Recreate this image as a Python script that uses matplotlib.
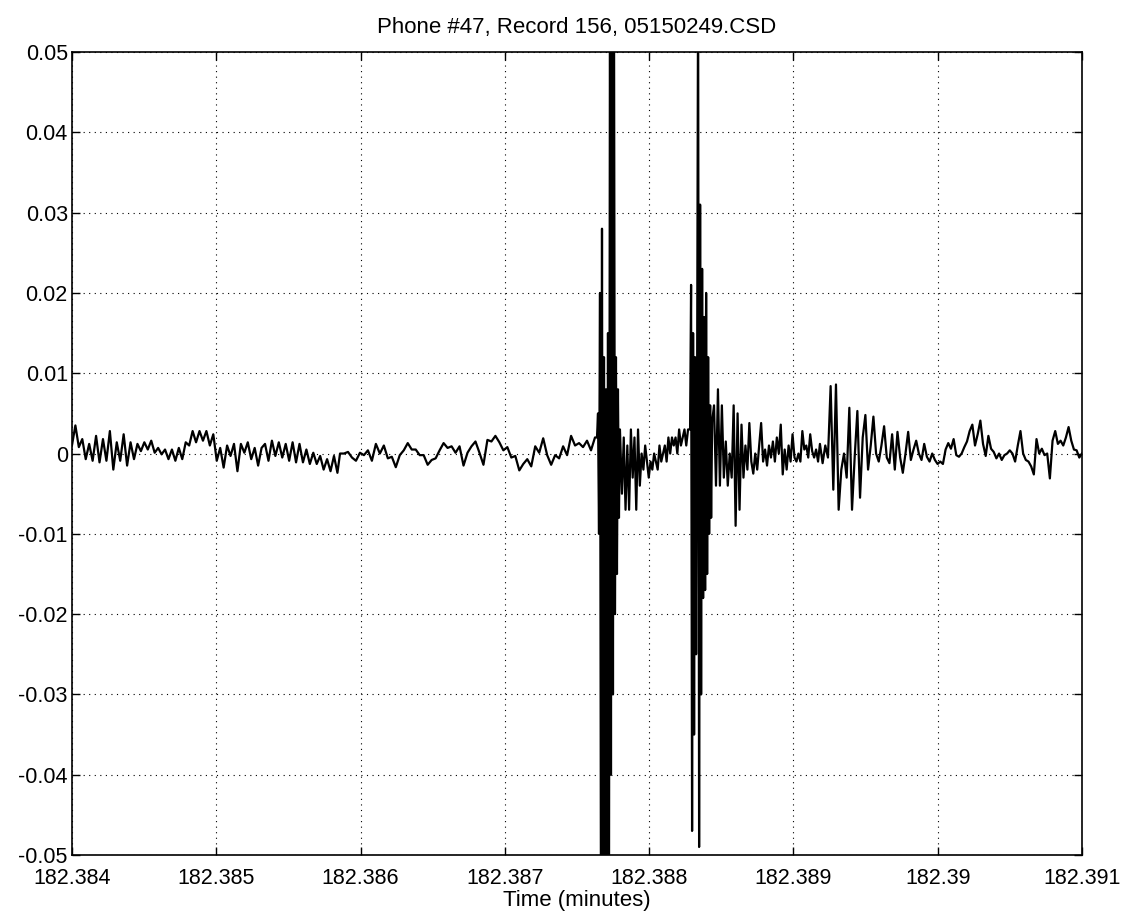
import numpy as np
import matplotlib
matplotlib.use('Agg')
import matplotlib.pyplot as plt
from matplotlib.ticker import FuncFormatter

plt.rcParams['font.family'] = ['Liberation Sans', 'DejaVu Sans']
plt.rcParams['axes.unicode_minus'] = False

# signal, in units of 1e-3, split in segments
# each segment: (t_start, t_end) in minutes, samples evenly spaced
quiet_a_t = (182.38400, 182.38584)
quiet_a = [1.0, 3.5, 0.8, 1.8, -0.7, 1.2, -0.9, 2.2, -1.1, 1.8, -0.9, 2.8, -2.0, 1.4,
           -0.9, 2.4, -1.5, 1.4, -0.7, 1.2, 0.3, 1.4, 0.5, 1.6, 0.1, 0.7, -0.1, 0.5,
           -0.7, 0.5, -0.9, 0.7, -0.7, 1.4, 1.0, 2.8, 1.4, 2.8, 1.6, 2.8, 1.0, 2.4,
           -0.9, 0.7, -1.75, 1.0, -0.3, 1.2, -2.2, 1.2, 0.1, 1.4, -0.7, 0.7, -1.5,
           0.7, 1.2, -0.9, 1.6, -0.3, 1.4, -0.5, 1.2, -0.9, 1.4, -1.1, 1.2, -1.1, 0.5,
           -1.3, 0.1, -1.3, -0.3, -2.0, -0.7, -2.2, -0.3, -2.4]

quiet_b_t = (182.385858, 182.387625)
quiet_b = [0.0, 0.0, 0.2, -0.5, -0.9, 0.1, -0.2, 0.4, -0.9, 1.2, 0.0, 1.0, -0.6, -0.4,
           -1.7, -0.2, 0.4, 1.3, 0.5, 0.5, -0.2, -0.2, -1.4, -0.8, -0.6, 0.4, 1.3, 0.7,
           0.9, 0.1, 0.9, -1.5, 0.1, 0.9, 1.5, 0.1, -1.4, 1.7, 1.5, 2.2, 1.4, 0.4, 0.8,
           -0.5, -0.3, -2.1, -1.3, -0.7, -1.6, 0.9, 0.1, 1.9, -0.2, -1.4, -0.2, -0.6,
           0.9, -0.2, 2.2, 1.0, 1.3, 0.8, 1.6, 0.4, 2.0]

burst1_t = (182.387639, 182.387798)
burst1 = [2, 5, -10, 20, -60, 28, -60, 12, -60, 8, -60, 15, -60, 60, -40, 60, -30, 60,
          -20, 12, -15, 8, -8, 3]

gap_t = (182.387812, 182.388270)
gap = [-5, 2, -7, 1, -7, 3, -3, 2, -7, 3, -4, 0, -2, 1, -1, -3, -1, -2, 0, -1, -2, 1,
       -1, 0, 1, -1, 2, 0, 2, 1, 2, 0, 3, 1, 2, 3, 1, 3]

burst2_t = (182.388284, 182.388437)
burst2 = [3, 21, -47, 15, -35, 12, -25, 8, 60, -49, 31, -30, 23, -18, 17, -17, 20, -15,
          12, -10, 6, -8, 4]

tail_a_t = (182.388450, 182.389171)
tail_a = [6, -4, 8, -4, 6, -3, 1.5, -4, 0, -3, 6, -9, 5, -7, 3.6, -3, 1, -2, 3.8, -1,
          -2.5, 0, -2, 1, 3.8, -1, 0.5, -1.5, 1, -0.5, 1.5, -1, 2, 0, 3.6, -2.6, 0.5,
          -2, 1, -1, 2.4, -0.5, -1, 0, -1, 2.8, 0.5, 1, -0.5, 2.4, 0.3, -0.5, 0.5, -1]

tail_b_t = (182.389184, 182.391000)
tail_b = [1.2, -1.2, 1, -0.5, 8.4, -4.5, 8.6, -7, -2, 0, -3, 5.7, -7, -0.4, 5.3, -5.5,
          2, 4.8, -2, 1, 4.6, 0, -1, 1, 3.4, -0.5, -1.2, 2.4, -2, 2.7, -0.5, -2.4, 0,
          2.7, -0.8, 0.5, 1.6, 0, -0.8, 1.2, -0.4, -1, 0, -0.8, -1.3, -1, -1.3, 0.5,
          1.3, 0.6, 1.8, -0.2, -0.4, 0, 0.8, 1.5, 2.8, 3.6, 1, 2.4, 4.1, 1.2, -0.3,
          2.2, 0.6, 0.2, -0.6, 0, -0.8, -0.2, 0, 0.4, 0, -1, 1, 2.8, 0, -0.8, -1, -1.6,
          -2.6, 1.8, 0, 0.6, -0.2, 0, -3.1, 1.6, 2.8, 1.2, 1.6, 1, 2, 3.3, 1.6, 0.5,
          0.4, -0.5, 0]

segments = [(quiet_a_t, quiet_a), (quiet_b_t, quiet_b), (burst1_t, burst1), (gap_t, gap),
            (burst2_t, burst2), (tail_a_t, tail_a), (tail_b_t, tail_b)]

xticks = [182.384, 182.385, 182.386, 182.387, 182.388, 182.389, 182.390, 182.391]
yticks = [-0.05, -0.04, -0.03, -0.02, -0.01, 0, 0.01, 0.02, 0.03, 0.04, 0.05]

t = np.concatenate([np.linspace(a, b, len(v)) for (a, b), v in segments])
y = np.concatenate([np.array(v, dtype=float) for _, v in segments]) * 1e-3

fig = plt.figure(figsize=(11.24, 9.18), dpi=100)
ax = fig.add_axes([0.064, 0.0686, 0.8986, 0.8747])
ax.plot(t, y, color='black', lw=1.6)

ax.set_xlim(xticks[0], xticks[-1])
ax.set_ylim(-0.05, 0.05)
ax.set_xticks(xticks)
ax.set_yticks(yticks)
fmt = FuncFormatter(lambda v, p: '%g' % round(v, 6))
ax.xaxis.set_major_formatter(fmt)
ax.yaxis.set_major_formatter(fmt)
ax.tick_params(direction='in', top=True, right=True, length=6, width=1,
               labelsize=15.5, colors='black')
ax.tick_params(axis='x', pad=9)
ax.tick_params(axis='y', pad=3)
ax.grid(True, color='black', linestyle=(0, (1, 4)), lw=0.8)
for s in ax.spines.values():
    s.set_linewidth(1.2)

ax.set_title('Phone #47, Record 156, 05150249.CSD', fontsize=16, pad=14)
ax.set_xlabel('Time (minutes)', fontsize=16, labelpad=1)

fig.savefig('out.png', dpi=100)
